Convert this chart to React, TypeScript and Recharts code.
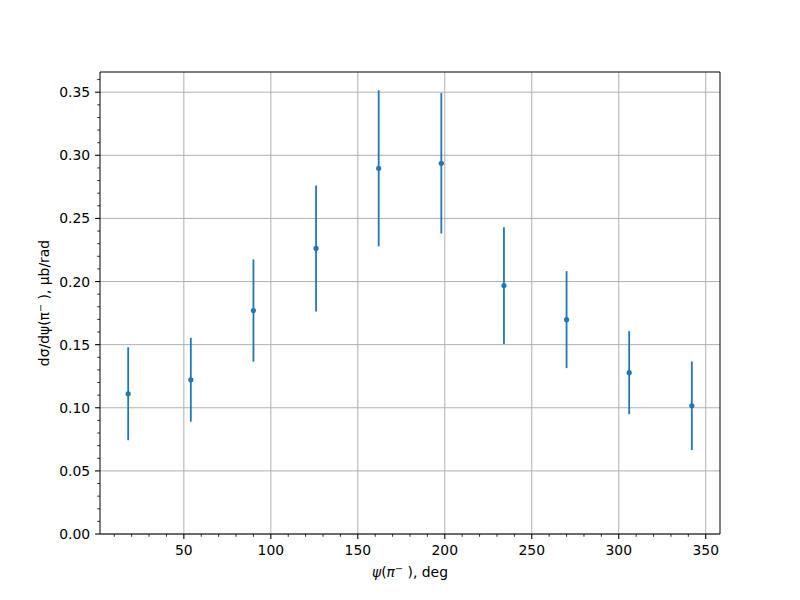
import React from 'react';
import { ScatterChart, Scatter, XAxis, YAxis, CartesianGrid, ErrorBar, ReferenceLine } from 'recharts';

// ---- data ----
const angles = [18, 54, 90, 126, 162, 198, 234, 270, 306, 342];
const values = [0.1111, 0.1222, 0.177, 0.2262, 0.2897, 0.2937, 0.1968, 0.1698, 0.1278, 0.1016];
const errors = [0.0368, 0.0332, 0.0405, 0.0499, 0.0618, 0.0556, 0.0463, 0.0384, 0.0329, 0.0351];

// ---- ticks ----
const xMajorTicks = [50, 100, 150, 200, 250, 300, 350];
const xAllTicks = [10, 20, 30, 40, 50, 60, 70, 80, 90, 100, 110, 120, 130, 140, 150, 160, 170, 180, 190, 200,
  210, 220, 230, 240, 250, 260, 270, 280, 290, 300, 310, 320, 330, 340, 350];
const yMajorTicks = [0, 0.05, 0.1, 0.15, 0.2, 0.25, 0.3, 0.35];
const yAllTicks = [0, 0.01, 0.02, 0.03, 0.04, 0.05, 0.06, 0.07, 0.08, 0.09, 0.1, 0.11, 0.12, 0.13, 0.14, 0.15,
  0.16, 0.17, 0.18, 0.19, 0.2, 0.21, 0.22, 0.23, 0.24, 0.25, 0.26, 0.27, 0.28, 0.29, 0.3, 0.31, 0.32, 0.33,
  0.34, 0.35, 0.36];
const xDomain: [number, number] = [1.8, 358.2];
const yDomain: [number, number] = [0, 0.366];

const data = angles.map((a, i) => ({ x: a, y: values[i], err: errors[i] }));

const FONT = 'DejaVu Sans';
const BLUE = '#1f77b4';

const isMajorY = (v: number) => Math.abs(Math.round(v * 100) % 5) === 0;

const XTick = (props: any) => {
  const { x, y, payload } = props;
  const v = payload.value;
  const major = xMajorTicks.includes(v);
  return (
    <g>
      <line x1={x} x2={x} y1={y} y2={y + (major ? 4.9 : 2.8)} stroke="#000" strokeWidth={major ? 1.1 : 0.8} />
      {major && (
        <text x={x} y={y + 21.3} textAnchor="middle" fontFamily={FONT} fontSize={13.9} fill="#000">
          {v}
        </text>
      )}
    </g>
  );
};

const YTick = (props: any) => {
  const { x, y, payload } = props;
  const v = payload.value;
  const major = isMajorY(v);
  return (
    <g>
      <line x1={x} x2={x - (major ? 4.9 : 2.8)} y1={y} y2={y} stroke="#000" strokeWidth={major ? 1.1 : 0.8} />
      {major && (
        <text x={x - 9.8} y={y + 5} textAnchor="end" fontFamily={FONT} fontSize={13.9} fill="#000">
          {v.toFixed(2)}
        </text>
      )}
    </g>
  );
};

const XLabel = (props: any) => {
  const vb = props.viewBox || { x: 100, y: 534, width: 620, height: 30 };
  const cx = vb.x + vb.width / 2;
  return (
    <text x={cx} y={vb.y + 43} textAnchor="middle" fontFamily={FONT} fontSize={13.9} fill="#000">
      <tspan fontStyle="italic">ψ</tspan>(<tspan fontStyle="italic">π</tspan>
      <tspan dy={-5} fontSize={9.7}>−</tspan>
      <tspan dy={5}> ), deg</tspan>
    </text>
  );
};

const YLabel = (props: any) => {
  const vb = props.viewBox || { x: 40, y: 72, width: 60, height: 462 };
  const cy = vb.y + vb.height / 2;
  const lx = 48.5;
  return (
    <text
      x={lx}
      y={cy}
      textAnchor="middle"
      fontFamily={FONT}
      fontSize={13.9}
      fill="#000"
      transform={`rotate(-90, ${lx}, ${cy})`}
    >
      dσ/dψ(π<tspan dy={-5} fontSize={9.7}>−</tspan>
      <tspan dy={5}> ), μb/rad</tspan>
    </text>
  );
};

const Dot = (props: any) => <circle cx={props.cx} cy={props.cy} r={2.6} fill={BLUE} />;

export default function App() {
  return (
    <div style={{ position: 'absolute', left: 0, top: 0, width: 800, height: 600, background: '#fff' }}>
      <ScatterChart width={800} height={600} margin={{ top: 72, right: 80, bottom: 36, left: 40 }}>
        <CartesianGrid
          stroke="#b0b0b0"
          strokeWidth={1}
          verticalValues={xMajorTicks}
          horizontalValues={yMajorTicks}
        />
        <XAxis
          type="number"
          dataKey="x"
          domain={xDomain}
          allowDataOverflow
          ticks={xAllTicks}
          interval={0}
          tickSize={0}
          tickMargin={0}
          tickLine={false}
          tick={<XTick />}
          height={30}
          axisLine={{ stroke: '#000', strokeWidth: 1 }}
          label={<XLabel />}
        />
        <YAxis
          type="number"
          dataKey="y"
          domain={yDomain}
          allowDataOverflow
          ticks={yAllTicks}
          interval={0}
          tickSize={0}
          tickMargin={0}
          tickLine={false}
          tick={<YTick />}
          width={60}
          axisLine={{ stroke: '#000', strokeWidth: 1 }}
          label={<YLabel />}
        />
        <ReferenceLine y={yDomain[1]} stroke="#000" strokeWidth={1} ifOverflow="extendDomain" />
        <ReferenceLine x={xDomain[1]} stroke="#000" strokeWidth={1} ifOverflow="extendDomain" />
        <Scatter data={data} fill={BLUE} shape={<Dot />} isAnimationActive={false}>
          <ErrorBar dataKey="err" direction="y" width={0} stroke={BLUE} strokeWidth={1.8} />
        </Scatter>
      </ScatterChart>
    </div>
  );
}
